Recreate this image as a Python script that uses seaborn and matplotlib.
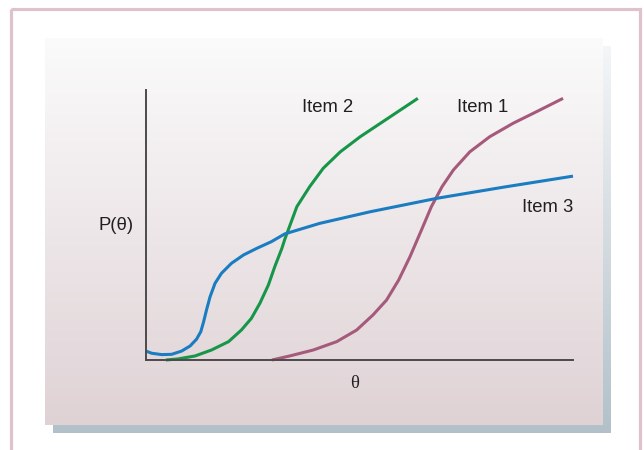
import numpy as np
import pandas as pd
import matplotlib.pyplot as plt
import seaborn as sns
from matplotlib.patches import Rectangle

# Item characteristic curves (theta, P(theta))
item1_theta = [-1.23, -0.98, -0.65, -0.32, -0.04, 0.19, 0.38, 0.55, 0.71, 0.87, 1.01, 1.16,
               1.32, 1.55, 1.83, 2.16, 2.49, 2.86]
item1_p = [0.0, 0.015, 0.037, 0.068, 0.111, 0.167, 0.222, 0.296, 0.383, 0.481, 0.568, 0.642,
           0.704, 0.771, 0.827, 0.877, 0.920, 0.969]

item2_theta = [-2.72, -2.55, -2.31, -2.08, -1.84, -1.66, -1.52, -1.40, -1.28, -1.19, -1.09,
               -1.05, -0.88, -0.70, -0.51, -0.27, 0.01, 0.33, 0.82]
item2_p = [0.0, 0.004, 0.015, 0.037, 0.068, 0.111, 0.154, 0.210, 0.278, 0.346, 0.414,
           0.447, 0.568, 0.642, 0.710, 0.771, 0.827, 0.883, 0.969]

item3_theta = [-3.0, -2.92, -2.78, -2.64, -2.50, -2.38, -2.29, -2.23, -2.19, -2.15, -2.10,
               -2.03, -1.94, -1.80, -1.63, -1.44, -1.24, -1.05, -0.56, 0.15, 1.09, 2.02, 3.0]
item3_p = [0.033, 0.025, 0.020, 0.021, 0.033, 0.052, 0.077, 0.105, 0.142, 0.185, 0.234,
           0.284, 0.321, 0.358, 0.389, 0.414, 0.438, 0.467, 0.506, 0.549, 0.599, 0.640, 0.681]

items = ['Item 1', 'Item 2', 'Item 3']
colors = {'Item 1': '#a65a7b', 'Item 2': '#17964a', 'Item 3': '#1a7cc1'}

df = pd.concat([
    pd.DataFrame({'theta': item1_theta, 'p': item1_p, 'item': 'Item 1'}),
    pd.DataFrame({'theta': item2_theta, 'p': item2_p, 'item': 'Item 2'}),
    pd.DataFrame({'theta': item3_theta, 'p': item3_p, 'item': 'Item 3'}),
])

sns.set_style('white')
plt.rcParams['font.family'] = ['Liberation Sans', 'DejaVu Sans']

W, H = 644, 450
fig = plt.figure(figsize=(W / 100, H / 100), dpi=100)

# background layer in pixel coordinates
bg = fig.add_axes([0, 0, 1, 1])
bg.set_xlim(0, W)
bg.set_ylim(H, 0)
bg.axis('off')


def gradient(top, bottom, n=256):
    t = np.linspace(0, 1, n)[:, None]
    top = np.array(top) / 255
    bottom = np.array(bottom) / 255
    return (top + (bottom - top) * t)[:, None, :]


# outer frame
bg.add_patch(Rectangle((11.5, 8.5), 629, 460, fill=False, ec='#dfc3cc', lw=2.3))
# shadow + panel
bg.imshow(gradient((244, 246, 248), (178, 193, 201)), extent=(53, 611, 433, 46),
          aspect='auto', interpolation='bicubic', zorder=1)
bg.imshow(gradient((251, 251, 251), (223, 210, 213)), extent=(45, 603, 425, 38),
          aspect='auto', interpolation='bicubic', zorder=2)

txt = dict(fontsize=13.3, color='#231f20', ha='center', va='center', zorder=5)
bg.text(328, 108, 'Item 2', **txt)
bg.text(483, 108, 'Item 1', **txt)
bg.text(548, 208, 'Item 3', **txt)
bg.text(116, 226, 'P(θ)', **txt)
bg.text(355, 384, 'θ', family=['Liberation Serif', 'DejaVu Serif'], **txt)

# main plot
ax = fig.add_axes([146 / W, 1 - 360 / H, 427 / W, 270 / H])
ax.patch.set_alpha(0)
sns.lineplot(data=df, x='theta', y='p', hue='item', palette=colors, hue_order=items,
             sort=False, estimator=None, lw=2.2, legend=False, ax=ax, clip_on=False)
for line in ax.lines:
    line.set_solid_capstyle('butt')
    line.set_solid_joinstyle('round')
ax.set_xlim(-3, 3)
ax.set_ylim(0, 1)
ax.set_xticks([])
ax.set_yticks([])
ax.set_xlabel('')
ax.set_ylabel('')
for side in ['top', 'right']:
    ax.spines[side].set_visible(False)
for side in ['left', 'bottom']:
    ax.spines[side].set_color('#4d4a4b')
    ax.spines[side].set_linewidth(1.4)

fig.savefig('out.png', dpi=100)
